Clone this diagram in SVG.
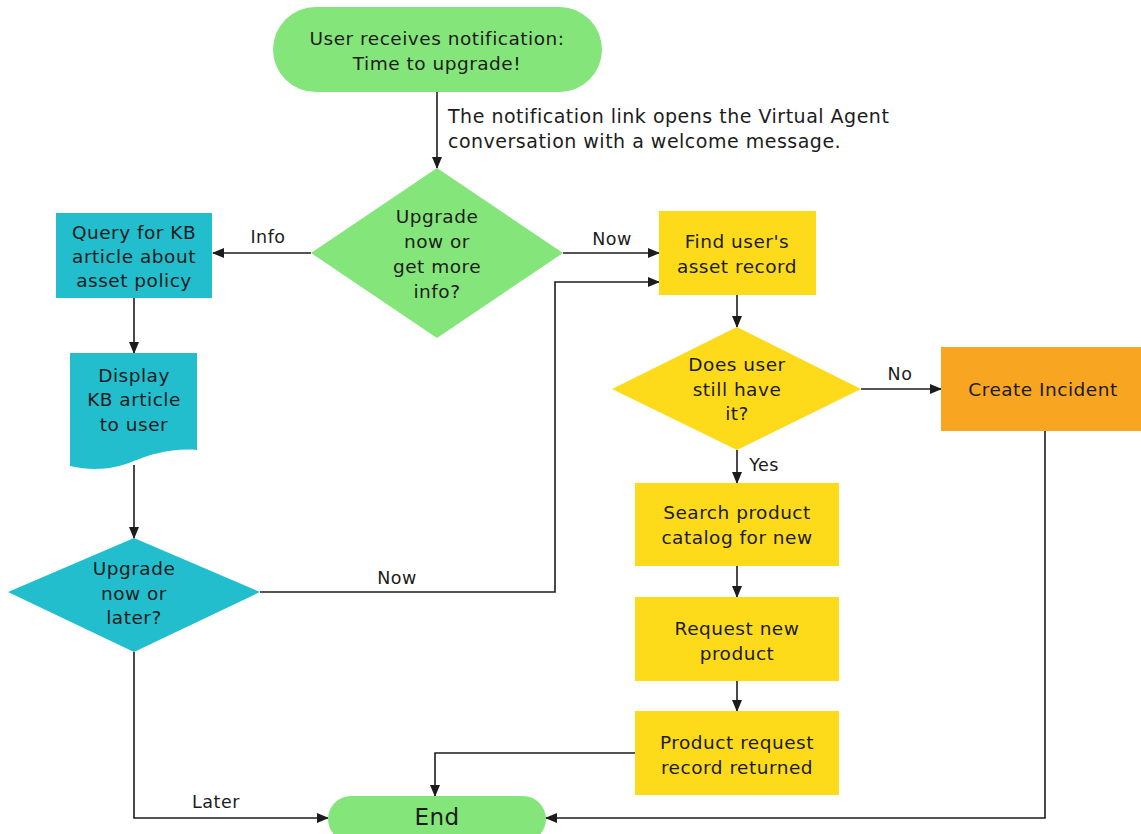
<svg xmlns="http://www.w3.org/2000/svg" width="1141" height="834" viewBox="0 0 1141 834">
<style>
text{font-family:"DejaVu Sans","Liberation Sans",Arial,sans-serif;fill:#1c1c1c;font-size:18.5px;letter-spacing:0.5px;text-anchor:middle;dominant-baseline:central}
.lbl{font-size:17.5px}
.note{text-anchor:start;font-size:19px}
.green{fill:#84E67A}
.teal{fill:#22BECE}
.yellow{fill:#FDDB1B}
.orange{fill:#F8A521}
.conn{fill:none;stroke:#1c1c1c;stroke-width:1.6}
</style>
<defs>
<marker id="arr" markerUnits="userSpaceOnUse" markerWidth="12" markerHeight="10" refX="11" refY="5" orient="auto">
<path d="M0,0 L12,5 L0,10 Z" fill="#1c1c1c"/>
</marker>
</defs>
<rect width="1141" height="834" fill="#fff"/>
<g id="connectors">
<path class="conn" d="M437,92 V168" marker-end="url(#arr)"/>
<path class="conn" d="M311,253 H213" marker-end="url(#arr)"/>
<path class="conn" d="M563,253 H659" marker-end="url(#arr)"/>
<path class="conn" d="M134,298 V353" marker-end="url(#arr)"/>
<path class="conn" d="M134,465 V538" marker-end="url(#arr)"/>
<path class="conn" d="M260,592 H555 V282 H659" marker-end="url(#arr)"/>
<path class="conn" d="M134,652 V818 H328" marker-end="url(#arr)"/>
<path class="conn" d="M737,295 V327" marker-end="url(#arr)"/>
<path class="conn" d="M861,389 H941" marker-end="url(#arr)"/>
<path class="conn" d="M737,450 V483" marker-end="url(#arr)"/>
<path class="conn" d="M737,566 V597" marker-end="url(#arr)"/>
<path class="conn" d="M737,681 V711" marker-end="url(#arr)"/>
<path class="conn" d="M635,753 H435 V796" marker-end="url(#arr)"/>
<path class="conn" d="M1045,431 V818 H546" marker-end="url(#arr)"/>
<text class="note" x="448" y="116">The notification link opens the Virtual Agent</text>
<text class="note" x="448" y="141">conversation with a welcome message.</text>
<text class="lbl" x="268" y="237">Info</text>
<text class="lbl" x="612" y="239">Now</text>
<text class="lbl" x="397" y="578">Now</text>
<text class="lbl" x="216" y="802">Later</text>
<text class="lbl" x="900" y="374">No</text>
<text class="lbl" x="764" y="465">Yes</text>
</g>
<g id="start">
<rect class="green" x="273" y="7" width="329" height="85" rx="42.5"/>
<text x="437" y="38">User receives notification:</text>
<text x="437" y="63">Time to upgrade!</text>
</g>
<g id="decision-upgrade-info">
<polygon class="green" points="437,168 563,253 437,338 311,253"/>
<text x="437" y="216">Upgrade</text>
<text x="437" y="241">now or</text>
<text x="437" y="266">get more</text>
<text x="437" y="291">info?</text>
</g>
<g id="query-kb">
<rect class="teal" x="56" y="213" width="156" height="85"/>
<text x="134" y="232">Query for KB</text>
<text x="134" y="256">article about</text>
<text x="134" y="280">asset policy</text>
</g>
<g id="display-kb">
<path class="teal" d="M70,353 H197 V450 C172,448 152,454 134,461 C112,470 92,471 70,466 Z"/>
<text x="134" y="375">Display</text>
<text x="134" y="399">KB article</text>
<text x="134" y="424">to user</text>
</g>
<g id="decision-now-later">
<polygon class="teal" points="134,538 260,592 134,652 8,592"/>
<text x="134" y="568">Upgrade</text>
<text x="134" y="593">now or</text>
<text x="134" y="617">later?</text>
</g>
<g id="find-asset">
<rect class="yellow" x="659" y="211" width="157" height="84"/>
<text x="737" y="241">Find user's</text>
<text x="737" y="266">asset record</text>
</g>
<g id="decision-still-have">
<polygon class="yellow" points="737,327 861,389 737,450 612,389"/>
<text x="737" y="364">Does user</text>
<text x="737" y="389">still have</text>
<text x="737" y="413">it?</text>
</g>
<g id="create-incident">
<rect class="orange" x="941" y="347" width="200" height="84"/>
<text x="1043" y="389">Create Incident</text>
</g>
<g id="search-catalog">
<rect class="yellow" x="635" y="483" width="204" height="83"/>
<text x="737" y="512">Search product</text>
<text x="737" y="537">catalog for new</text>
</g>
<g id="request-product">
<rect class="yellow" x="635" y="597" width="204" height="84"/>
<text x="737" y="628">Request new</text>
<text x="737" y="653">product</text>
</g>
<g id="request-returned">
<rect class="yellow" x="635" y="711" width="204" height="84"/>
<text x="737" y="742">Product request</text>
<text x="737" y="767">record returned</text>
</g>
<g id="end">
<rect class="green" x="328" y="796" width="218" height="46" rx="23"/>
<text x="437" y="817" style="font-size:23px">End</text>
</g>
</svg>
